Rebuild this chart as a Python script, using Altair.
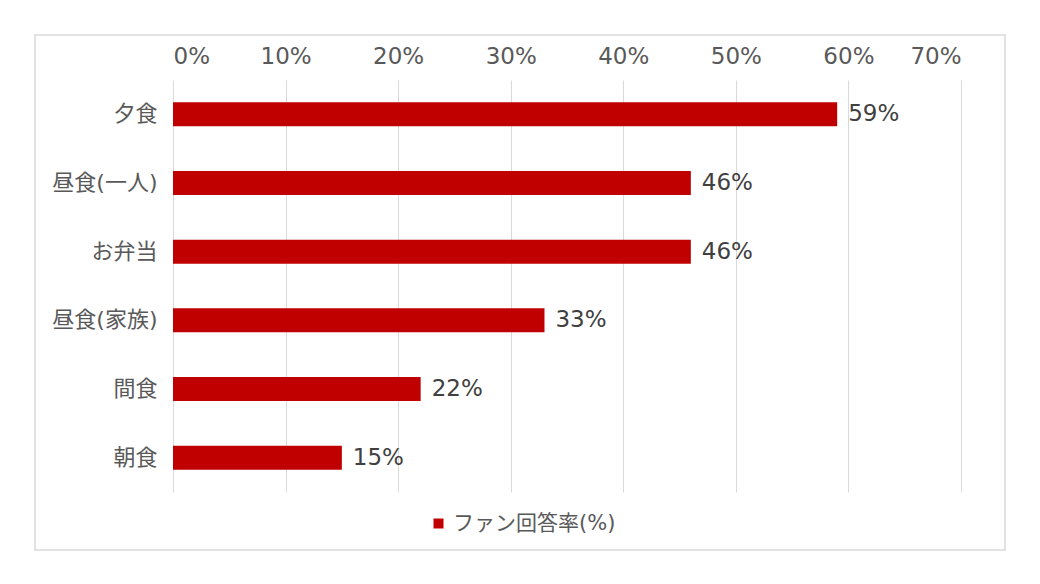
import altair as alt
import pandas as pd

categories = ["夕食", "昼食(一人)", "お弁当", "昼食(家族)", "間食", "朝食"]
values = [59, 46, 46, 33, 22, 15]
series_name = "ファン回答率(%)"
x_ticks = [0, 10, 20, 30, 40, 50, 60, 70]

df = pd.DataFrame({
    "cat": categories,
    "val": values,
    "label": [f"{v}%" for v in values],
    "series": [series_name] * len(values),
})

FONT = "DejaVu Sans, Noto Sans CJK JP"
TXT = "#595959"
W, H = 788, 412

x_enc = alt.X(
    "val:Q",
    scale=alt.Scale(domain=[0, 70], nice=False),
    axis=alt.Axis(
        orient="top", values=x_ticks, labelExpr="datum.value + '%'",
        title=None, domain=False, ticks=False, grid=True, gridColor="#d9d9d9",
        labelFontSize=23, labelColor=TXT, labelFont=FONT, labelPadding=12,
    ),
)
y_enc = alt.Y(
    "cat:N", sort=categories,
    scale=alt.Scale(paddingInner=0.65, paddingOuter=0.325),
    axis=alt.Axis(
        title=None, domain=False, ticks=False, labelFontSize=22,
        labelColor=TXT, labelFont=FONT, labelPadding=16, labelLimit=0,
    ),
)

base = alt.Chart(df)

bars = base.mark_bar(size=24).encode(
    x=x_enc, y=y_enc,
    color=alt.Color(
        "series:N",
        scale=alt.Scale(range=["#C00000"]),
        legend=alt.Legend(
            title=None, orient="none", legendX=255, legendY=433,
            symbolType="square", symbolSize=100, labelFontSize=21,
            labelColor=TXT, labelFont=FONT, labelOffset=4, labelLimit=0,
        ),
    ),
)

labels = base.mark_text(align="left", baseline="middle", dx=11, fontSize=23,
                        font=FONT, color="#404040").encode(
    x="val:Q", y=alt.Y("cat:N", sort=categories), text="label:N"
)

border = alt.Chart(pd.DataFrame({"a": [0]})).mark_rect(
    fill=None, stroke="#d9d9d9", strokeWidth=1.5
).encode(
    x=alt.value(-138), x2=alt.value(832), y=alt.value(-45), y2=alt.value(470)
)

chart = alt.layer(bars, labels, border).properties(
    width=W, height=H,
    autosize=alt.AutoSizeParams(type="none"),
    padding={"left": 165, "top": 72, "right": 60, "bottom": 80},
    background="white",
).configure_view(stroke=None)

chart.save("out.html", embed_options={"renderer": "svg", "actions": False})
